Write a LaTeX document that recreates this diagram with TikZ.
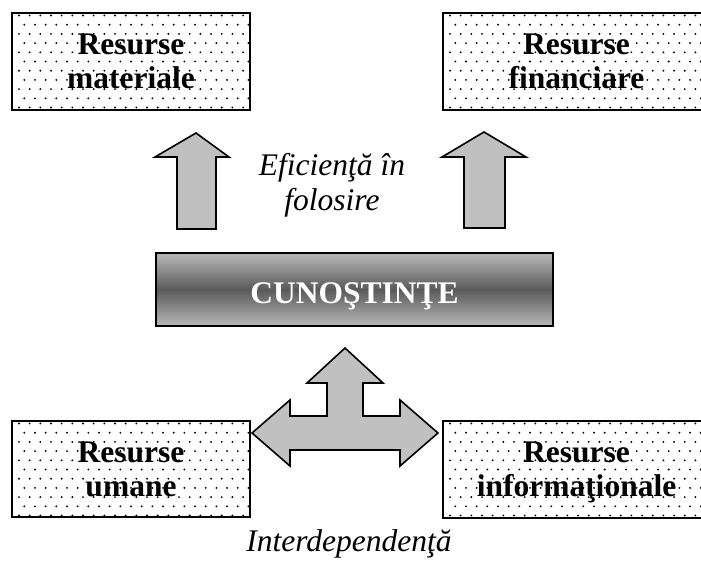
\documentclass[tikz,border=0pt]{standalone}
\usepackage{fontspec}
\setmainfont{Liberation Serif}
\usetikzlibrary{calc}
\definecolor{arrowgray}{RGB}{192,192,192}
\definecolor{shadelight}{RGB}{185,185,185}
\definecolor{shadedark}{RGB}{90,90,90}
\tikzset{
  resbox/.style={draw=black, line width=1.6pt, fill=white, inner sep=0pt,
    align=center, font=\fontsize{31.5}{34}\selectfont\bfseries,
    path picture={
      \foreach \i in {0,...,10} {
        \pgfmathsetmacro{\off}{mod(\i,2)*5.33}
        \foreach \j in {0,...,25} {
          \fill[black] ($(path picture bounding box.north west)+(\j*10.67+\off+7,\i*9.2+2.5)$) circle (1.05);
        }
      }
    }},
  bigarrow/.style={draw=black, line width=1.6pt, fill=arrowgray, line join=miter},
  italictext/.style={font=\fontsize{31.5}{35}\selectfont\itshape, align=center, inner sep=0pt}
}
\begin{document}
\begin{tikzpicture}[x=1pt,y=-1pt]
\useasboundingbox (0,0) rectangle (701,570);
\begin{scope}
\clip (0,0) rectangle (701,570);
% boxes
\node[resbox, minimum width=238pt, minimum height=97pt] (mat) at (131,61.5) {Resurse\\materiale};
\node[resbox, minimum width=259pt, minimum height=97pt, text width=238pt] (fin) at (572.5,61.5) {\hspace*{8pt}Resurse\\\hspace*{8pt}financiare};
\node[resbox, minimum width=238pt, minimum height=96pt] (uma) at (131,469) {Resurse\\umane};
\node[resbox, minimum width=259pt, minimum height=97pt, text width=238pt] (inf) at (572.5,469.5) {\hspace*{8pt}Resurse\\\hspace*{8pt}\raisebox{0pt}[\height][0pt]{informaţionale}};
\end{scope}
% central box
\shade[top color=shadelight, bottom color=shadelight, middle color=shadedark] (156,253) rectangle (553,326);
\node[draw=black, line width=1.6pt, minimum width=397pt, minimum height=73pt, inner sep=0pt,
  text height=27pt, text depth=0pt,
  text=white, font=\fontsize{31.5}{33}\selectfont\bfseries] (cun) at (354.5,289.5) {CUNOŞTINŢE};
% up arrows
\draw[bigarrow] (196,133) -- (229,157) -- (216,157) -- (216,229) -- (177,229) -- (177,157) -- (155,157) -- cycle;
\draw[bigarrow] (484,132) -- (526,157) -- (505,157) -- (505,228) -- (464,228) -- (464,157) -- (442,157) -- cycle;
\node[italictext] (efi) at (332,185) {Eficienţă în\\folosire};
% three-way arrow
\draw[bigarrow] (345,348) -- (383,383) -- (363,383) -- (363,416) -- (400,416) -- (400,400) -- (438,433)
  -- (400,466) -- (400,450) -- (290,450) -- (290,466) -- (252,433) -- (290,400) -- (290,416)
  -- (327,416) -- (327,383) -- (307,383) -- cycle;
\node[italictext] (inter) at (349,544) {Interdependenţă};
\end{tikzpicture}
\end{document}
